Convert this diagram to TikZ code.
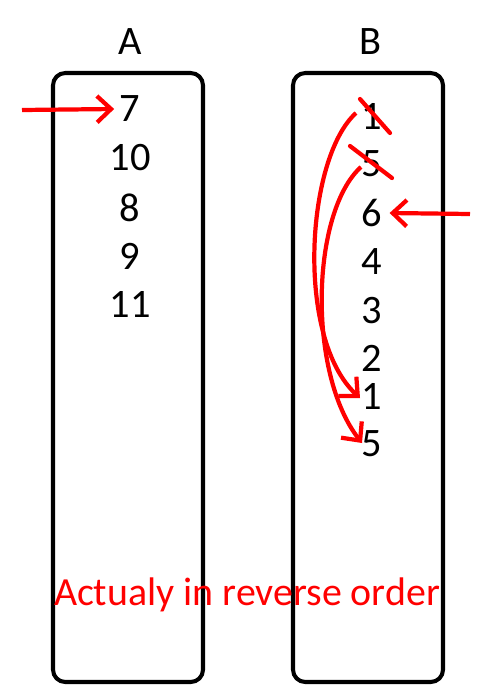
\documentclass[tikz,border=0pt]{standalone}
\usepackage{fontspec}
\setmainfont{Carlito}
\usetikzlibrary{arrows.meta}

\begin{document}
\begin{tikzpicture}[x=0.02cm,y=-0.02cm,
  column/.style={draw,line width=2.3pt,rounded corners=7pt},
  num/.style={inner sep=0pt,font=\fontsize{23}{28}\selectfont},
  redline/.style={red,line width=2.4pt},
  >={Straight Barb[length=8pt,width=15pt]}]
\useasboundingbox (0,0) rectangle (500,700);

% define the two columns
  \draw[column] (53,73) rectangle (203,682);
  \draw[column] (293,73) rectangle (443,682);
  \node[num] (la) at (130,42) {A};
  \node[num] (lb) at (370,42) {B};

% entries of column A
  \node[num] (a1) at (130,109) {7};
  \node[num] (a2) at (130,158) {10};
  \node[num] (a3) at (130,208) {8};
  \node[num] (a4) at (130,256) {9};
  \node[num] (a5) at (130,304) {11};

% entries of column B
  \node[num] (b1) at (372,116) {1};
  \node[num] (b2) at (372,164) {5};
  \node[num] (b3) at (372,213) {6};
  \node[num] (b4) at (372,262) {4};
  \node[num] (b5) at (372,311) {3};
  \node[num] (b6) at (372,358) {2};
  \node[num] (b7) at (372,396) {1};
  \node[num] (b8) at (372,444) {5};

% free ends of the two pointers
  \coordinate (ina) at (22,110);
  \coordinate (inb) at (470,214);

% define the links
  \draw[redline,->] (ina) -- ([xshift=-3]a1.west);
  \draw[redline,->] (inb) -- ([xshift=4]b3.east);
  \draw[redline,line cap=round] ([shift={(-12,-17)}]b1.center) -- ([shift={(18,17)}]b1.center);
  \draw[redline,line cap=round] ([shift={(-22,-18)}]b2.center) -- ([shift={(20,14)}]b2.center);
  \draw[redline,->] ([shift={(-16,-3)}]b1.center) .. controls +(-50,45) and +(-65,-60) .. ([shift={(-12,2)}]b7.center);
  \draw[redline,->] ([shift={(-11,3)}]b2.center) .. controls +(-50,45) and +(-55,-70) .. ([shift={(-10,-1)}]b8.center);

  \node[text=red,inner sep=0pt,font=\fontsize{22.7}{27}\selectfont] (note) at (247,595) {Actualy in reverse order};
\end{tikzpicture}
\end{document}
